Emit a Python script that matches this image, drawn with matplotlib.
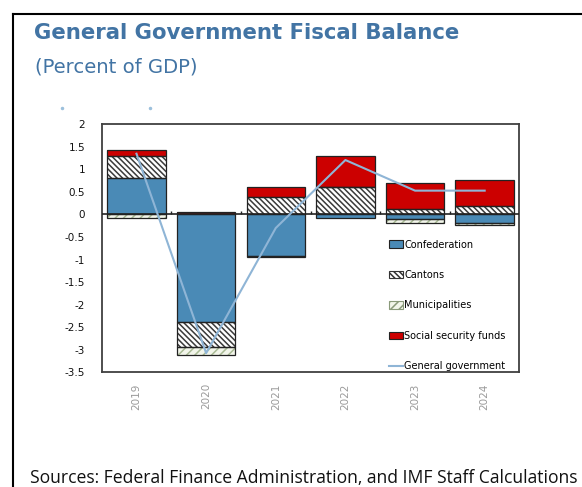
import matplotlib
matplotlib.use("Agg")
import matplotlib.pyplot as plt
import numpy as np
from matplotlib.patches import Patch
from matplotlib.lines import Line2D
from matplotlib.ticker import FuncFormatter

years = ["2019", "2020", "2021", "2022", "2023", "2024"]
confederation = [0.82, -2.39, -0.93, -0.07, -0.10, -0.18]
cantons = [0.49, -0.56, 0.39, 0.62, 0.13, 0.18]
municipalities = [-0.08, -0.18, -0.02, 0.00, -0.08, -0.06]
social_security = [0.13, 0.05, 0.23, 0.67, 0.57, 0.59]
general_government = [1.35, -3.08, -0.30, 1.21, 0.53, 0.53]
yticks = [2, 1.5, 1, 0.5, 0, -0.5, -1, -1.5, -2, -2.5, -3, -3.5]

BLUE = "#4a8ab6"
RED = "#cc0000"
LINE = "#8fb5d6"
TITLE = "#4274a4"

plt.rcParams["hatch.linewidth"] = 1.1

W, H = 582, 487
fig = plt.figure(figsize=(W / 100, H / 100), dpi=100)
ax = fig.add_axes([0.1747, 0.2361, 0.8926 - 0.1747, 0.7444 - 0.2361])

x = np.arange(len(years))
w = 0.84
CANT_HATCH = "\\\\\\\\\\\\"
series = [
    (confederation, dict(facecolor=BLUE, hatch=None, hc=BLUE)),
    (cantons, dict(facecolor="white", hatch=CANT_HATCH, hc="#3a3a3a")),
    (municipalities, dict(facecolor="#f2f5ea", hatch="////", hc="#a9bb95")),
    (social_security, dict(facecolor=RED, hatch=None, hc=RED)),
]
pos_base = np.zeros(len(years))
neg_base = np.zeros(len(years))
for vals, st in series:
    v = np.array(vals)
    bottoms = np.where(v >= 0, pos_base, neg_base)
    ax.bar(x, v, w, bottom=bottoms, color=st["facecolor"], hatch=st["hatch"],
           edgecolor=st["hc"], linewidth=0, zorder=2)
    ax.bar(x, v, w, bottom=bottoms, fill=False, edgecolor="#222222",
           linewidth=0.9, zorder=3)
    pos_base = pos_base + np.where(v >= 0, v, 0)
    neg_base = neg_base + np.where(v < 0, v, 0)

ax.plot(x, general_government, color=LINE, linewidth=1.5, zorder=4)

ax.axhline(0, color="#222222", linewidth=1.2, zorder=3.5)
ax.vlines(x[:-1] + 0.5, 0, 0.08, color="#222222", linewidth=1.0, zorder=3.5)

ax.set_xlim(-0.5, len(years) - 0.5)
ax.set_ylim(-3.5, 2)
ax.set_yticks(yticks)
ax.yaxis.set_major_formatter(FuncFormatter(lambda v, p: ("%g" % v).replace("\u2212", "-")))
ax.tick_params(axis="y", length=0, pad=12, labelsize=7.5, labelcolor="#111111")
ax.set_xticks(x)
ax.set_xticklabels(years, rotation=90, color="#9a9a9a", fontsize=7.5)
ax.tick_params(axis="x", length=0, pad=8)
for s in ax.spines.values():
    s.set_color("#404040")
    s.set_linewidth(1.3)

handles = [
    Patch(facecolor=BLUE, edgecolor="#222222", linewidth=0.8),
    Patch(facecolor="white", edgecolor="#333333", hatch=CANT_HATCH, linewidth=0.8),
    Patch(facecolor="#f2f5ea", edgecolor="#8a9a7a", hatch="////", linewidth=0.8),
    Patch(facecolor=RED, edgecolor="#222222", linewidth=0.8),
    Line2D([0], [0], color=LINE, linewidth=1.5),
]
labels = ["Confederation", "Cantons", "Municipalities", "Social security funds", "General government"]
leg = ax.legend(handles, labels, loc="upper left", bbox_to_anchor=(0.687, 0.535),
                frameon=False, fontsize=7, labelspacing=2.1, handlelength=1.5,
                handleheight=0.8, handletextpad=0.1, borderpad=0, borderaxespad=0)

renderer = fig.canvas.get_renderer()


def fit_text(xpx, ypx, s, target_w, **kw):
    t = fig.text(xpx / W, 1 - ypx / H, s, va="center", **kw)
    bb = t.get_window_extent(renderer)
    t.set_fontsize(t.get_fontsize() * target_w / bb.width)
    return t


fit_text(34, 33, "General Government Fiscal Balance", 426, fontsize=12,
         fontweight="bold", color=TITLE, family="DejaVu Sans")
fit_text(35, 67, "(Percent of GDP)", 162, fontsize=12, color=TITLE,
         family="DejaVu Sans")
fit_text(30, 478, "Sources: Federal Finance Administration, and IMF Staff Calculations",
         549, fontsize=11, color="#111111", family="Open Sans")

# small decorative dots
fig.add_artist(Line2D([62 / W, 150 / W], [1 - 108 / H, 1 - 108 / H], linestyle="none",
                      marker="o", markersize=1.5, color="#9cc0dc", transform=fig.transFigure))

# frame
fig.add_artist(Line2D([13 / W, 13 / W], [0, 1 - 14 / H], color="black",
                      linewidth=1.5, transform=fig.transFigure))
fig.add_artist(Line2D([13 / W, 1], [1 - 14 / H, 1 - 14 / H], color="black",
                      linewidth=1.5, transform=fig.transFigure))

fig.savefig("out.png", dpi=100)
